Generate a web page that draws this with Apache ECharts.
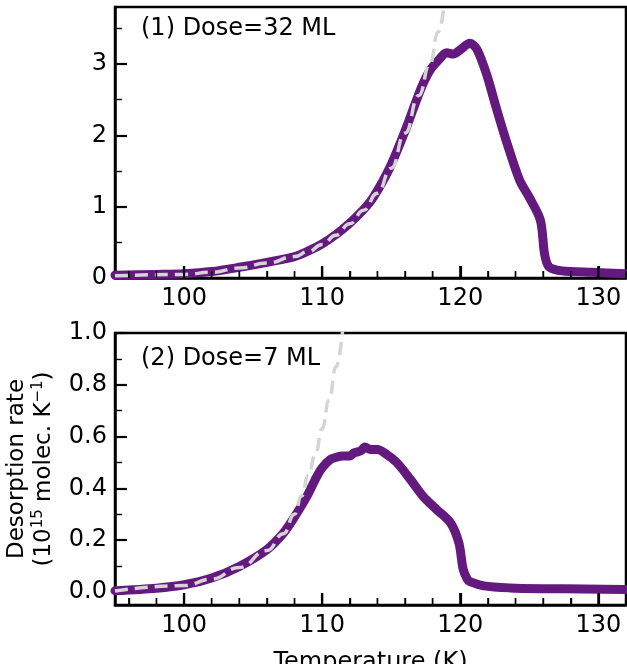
<!DOCTYPE html>
<html><head><meta charset="utf-8">
<script src="https://cdn.jsdelivr.net/npm/echarts@6/dist/echarts.min.js"></script>
<style>html,body{margin:0;padding:0;background:#fff}#c{width:627px;height:664px}</style>
</head><body><div id="c"></div>
<script>
// ---- data ----
const tempTop = [95, 98, 100, 102, 104, 106, 108, 109, 110, 111, 112, 113, 113.7, 114.9, 116.1, 117.1, 117.8, 118.5, 119.0, 119.5, 120.0, 120.7, 121.2, 121.9, 122.6, 123.4, 124.3, 125.0, 125.8, 126.1, 126.4, 127.0, 128, 129.5, 132];
const rateTop = [0.04, 0.05, 0.06, 0.09, 0.15, 0.22, 0.30, 0.38, 0.48, 0.61, 0.77, 0.96, 1.13, 1.55, 2.11, 2.63, 2.91, 3.07, 3.16, 3.14, 3.20, 3.29, 3.21, 2.86, 2.39, 1.88, 1.37, 1.13, 0.81, 0.34, 0.16, 0.11, 0.09, 0.08, 0.06];
const fitTempTop = [95, 100, 102, 104, 106, 108, 109, 110, 111, 112, 113, 114, 115, 116, 117, 117.8, 118.4, 118.9];
const fitRateTop = [0.03, 0.05, 0.08, 0.14, 0.21, 0.30, 0.37, 0.47, 0.60, 0.76, 0.95, 1.19, 1.54, 2.03, 2.56, 3.0, 3.45, 3.95];

const tempBot = [95, 98, 100, 102, 104, 106, 107.2, 108, 108.9, 109.6, 110.0, 110.6, 111.0, 111.5, 112.0, 112.3, 112.8, 113.1, 113.5, 114.0, 114.7, 115.4, 116.4, 117.3, 118.3, 119.3, 119.9, 120.2, 120.5, 120.7, 121.7, 123.6, 126, 129, 132];
const rateBot = [0.005, 0.015, 0.028, 0.054, 0.099, 0.164, 0.228, 0.29, 0.37, 0.445, 0.48, 0.512, 0.52, 0.525, 0.525, 0.537, 0.545, 0.56, 0.55, 0.55, 0.53, 0.50, 0.434, 0.37, 0.318, 0.267, 0.19, 0.09, 0.05, 0.04, 0.024, 0.016, 0.013, 0.012, 0.010];
const fitTempBot = [95, 100, 102, 104, 106, 107.2, 108, 108.5, 109, 109.5, 110, 110.5, 111, 111.5];
const fitRateBot = [0.004, 0.025, 0.05, 0.095, 0.16, 0.225, 0.30, 0.37, 0.45, 0.53, 0.63, 0.74, 0.87, 1.02];

const xMajor = [100, 110, 120, 130];
const xMinor = [96, 98, 102, 104, 106, 108, 112, 114, 116, 118, 122, 124, 126, 128, 132];
const yMajorTop = [0, 1, 2, 3];
const yMinorTop = [0.5, 1.5, 2.5, 3.5];
const yMajorBot = [0, 0.2, 0.4, 0.6, 0.8, 1.0];
const yMinorBot = [0.1, 0.3, 0.5, 0.7, 0.9];

const labelTop = '(1) Dose=32 ML';
const labelBot = '(2) Dose=7 ML';
const xTitle = 'Temperature (K)';
const yTitle = 'Desorption rate\n(10{sup|15} molec. K{sup|\u22121})';

// ---- styling ----
const FONT = 'DejaVu Sans';
const FS = 24;
const PURPLE = '#64197f';
const GREY = '#d4d4d4';
const zip = (a, b) => a.map((v, i) => [v, b[i]]);
const AXLINE = {show: true, onZero: false, lineStyle: {color: '#000', width: 2.5}};
const X_MIN = 95, X_MAX = 132;
const Y_TOP = [0, 3.8], Y_BOT = [-0.05, 1.0];

const xTickAx = (grid, isMajor) => ({
  type: 'value', gridIndex: grid, min: X_MIN, max: X_MAX, position: 'bottom',
  axisLine: isMajor ? AXLINE : {show: false, onZero: false}, splitLine: {show: false},
  axisTick: isMajor ? {show: true, inside: true, length: 12, customValues: xMajor, lineStyle: {color: '#000', width: 2.2}}
                    : {show: true, inside: true, length: 7, customValues: xMinor, lineStyle: {color: '#000', width: 1.4}},
  axisLabel: isMajor ? {show: true, customValues: xMajor, margin: 9, fontFamily: FONT, fontSize: FS, color: '#000'} : {show: false}
});
const yTickAx = (grid, range, major, minor, fmt, isMajor) => ({
  type: 'value', gridIndex: grid, min: range[0], max: range[1], position: 'left',
  axisLine: isMajor ? AXLINE : {show: false, onZero: false}, splitLine: {show: false},
  axisTick: isMajor ? {show: true, inside: true, length: 12, customValues: major, lineStyle: {color: '#000', width: 2.2}}
                    : {show: true, inside: true, length: 7, customValues: minor, lineStyle: {color: '#000', width: 1.4}},
  axisLabel: isMajor ? {show: true, customValues: major, margin: 8, fontFamily: FONT, fontSize: FS, color: '#000', formatter: fmt} : {show: false}
});
const hiddenX = (grid) => ({type: 'value', gridIndex: grid, min: X_MIN, max: X_MAX, show: false});
const hiddenY = (grid, range) => ({type: 'value', gridIndex: grid, min: range[0], max: range[1], show: false});

const xBotMajor = xTickAx(1, true);
xBotMajor.name = xTitle; xBotMajor.nameLocation = 'middle'; xBotMajor.nameGap = 46;
xBotMajor.nameTextStyle = {fontFamily: FONT, fontSize: FS, color: '#000'};

const yBotMajor = yTickAx(1, Y_BOT, yMajorBot, yMinorBot, v => v.toFixed(1), true);
yBotMajor.name = yTitle; yBotMajor.nameLocation = 'middle'; yBotMajor.nameRotate = 90; yBotMajor.nameGap = 52;
yBotMajor.nameTextStyle = {fontFamily: FONT, fontSize: 23, lineHeight: 27, color: '#000', align: 'center',
  rich: {sup: {fontFamily: FONT, fontSize: 15, verticalAlign: 'top', color: '#000'}}};

const titleStyle = {fontFamily: FONT, fontSize: FS, fontWeight: 'normal', color: '#000'};

// x tick marks drawn through the axis scale (backup for the bottom spine ticks)
const xTickData = xMajor.map(v => [v, 1]).concat(xMinor.map(v => [v, 0]));
const tickSeries = (xi, yi, yMin) => ({
  type: 'custom', xAxisIndex: xi, yAxisIndex: yi, data: xTickData, z: 10, silent: true,
  renderItem: function (params, api) {
    const p = api.coord([api.value(0), yMin]);
    const major = api.value(1) === 1;
    const len = major ? 12 : 7;
    return {type: 'line', shape: {x1: p[0], y1: p[1], x2: p[0], y2: p[1] - len},
            style: {stroke: '#000', lineWidth: major ? 2.2 : 1.4}};
  }
});

const chart = echarts.init(document.getElementById('c'), null, {renderer: 'canvas'});
chart.setOption({
  animation: false,
  title: [
    {text: labelTop, left: 141, top: 17, padding: 0, textStyle: titleStyle},
    {text: labelBot, left: 141, top: 347, padding: 0, textStyle: titleStyle}
  ],
  grid: [
    {left: 115, top: 7, width: 511, height: 271, show: true, borderColor: '#000', borderWidth: 2.5, outerBoundsMode: 'none', containLabel: false},
    {left: 115, top: 333, width: 511, height: 272, show: true, borderColor: '#000', borderWidth: 2.5, outerBoundsMode: 'none', containLabel: false}
  ],
  xAxis: [
    xTickAx(0, true), xTickAx(0, false), hiddenX(0),
    xBotMajor, xTickAx(1, false), hiddenX(1)
  ],
  yAxis: [
    yTickAx(0, Y_TOP, yMajorTop, yMinorTop, v => String(v), true),
    yTickAx(0, Y_TOP, yMajorTop, yMinorTop, null, false),
    hiddenY(0, Y_TOP),
    yBotMajor,
    yTickAx(1, Y_BOT, yMajorBot, yMinorBot, null, false),
    hiddenY(1, Y_BOT)
  ],
  series: [
    {type: 'line', xAxisIndex: 2, yAxisIndex: 2, data: zip(tempTop, rateTop), showSymbol: false, smooth: 0.3, clip: true,
     lineStyle: {color: PURPLE, width: 9, join: 'round', cap: 'round'}},
    {type: 'line', xAxisIndex: 2, yAxisIndex: 2, data: zip(fitTempTop, fitRateTop), showSymbol: false, smooth: true, smoothMonotone: 'x', clip: true,
     lineStyle: {color: GREY, width: 3.5, type: [13, 7]}},
    {type: 'line', xAxisIndex: 5, yAxisIndex: 5, data: zip(tempBot, rateBot), showSymbol: false, smooth: 0.3, clip: true,
     lineStyle: {color: PURPLE, width: 9, join: 'round', cap: 'round'}},
    {type: 'line', xAxisIndex: 5, yAxisIndex: 5, data: zip(fitTempBot, fitRateBot), showSymbol: false, smooth: true, smoothMonotone: 'x', clip: true,
     lineStyle: {color: GREY, width: 3.5, type: [13, 7]}},
    tickSeries(2, 2, Y_TOP[0]),
    tickSeries(5, 5, Y_BOT[0])
  ]
});
</script></body></html>
